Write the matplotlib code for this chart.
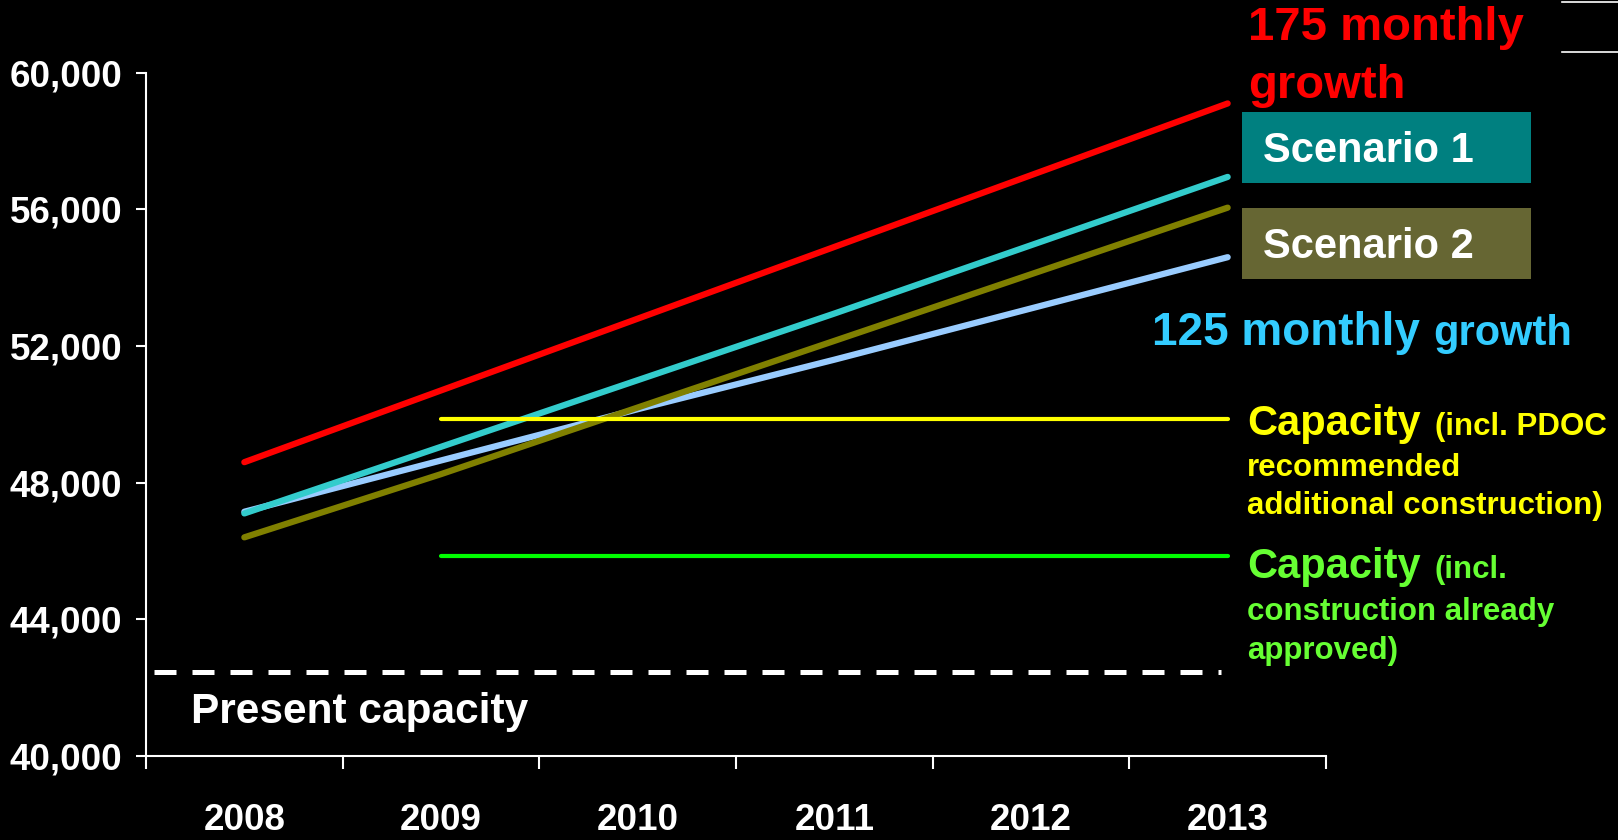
import matplotlib
matplotlib.use('Agg')
import matplotlib.pyplot as plt
from matplotlib.patches import Rectangle
from matplotlib.lines import Line2D
from matplotlib.ticker import FuncFormatter, FixedLocator

# data
years = ['2008', '2009', '2010', '2011', '2012', '2013']
growth_175 = [48600, 50700, 52800, 54900, 57000, 59100]
scenario_1 = [47100, 49050, 51000, 52950, 54950, 56950]
scenario_2 = [46400, 48250, 50200, 52150, 54100, 56050]
growth_125 = [47150, 48650, 50150, 51600, 53100, 54600]
capacity_pdoc = 49850
capacity_approved = 45850
capacity_present = 42450
y_ticks = [40000, 44000, 48000, 52000, 56000, 60000]

W, H = 1618, 840
TICK_FONT = ['Liberation Sans Narrow', 'Liberation Sans', 'DejaVu Sans']
TEXT_FONT = ['Liberation Sans', 'Arial', 'DejaVu Sans']


def fx(px):
    return px / W


def fy(py):
    return 1 - py / H


fig = plt.figure(figsize=(W / 100, H / 100), dpi=100, facecolor='black')
ax = fig.add_axes([fx(146), fy(756), fx(1326) - fx(146), fy(72.7) - fy(756)])
ax.set_facecolor('black')

x = list(range(len(years)))

# growth lines
ax.plot(x, growth_125, color='#99CCFF', lw=4.5, solid_capstyle='round', zorder=3)
ax.plot(x, scenario_1, color='#33CCCC', lw=4.5, solid_capstyle='round', zorder=4)
ax.plot(x, scenario_2, color='#808000', lw=4.5, solid_capstyle='round', zorder=5)
ax.plot(x, growth_175, color='#FF0000', lw=4.5, solid_capstyle='round', zorder=6)

# capacity lines (from 2009 on)
ax.plot(x[1:], [capacity_pdoc] * len(x[1:]), color='#FFFF00', lw=3,
        solid_capstyle='round', zorder=7)
ax.plot(x[1:], [capacity_approved] * len(x[1:]), color='#00FF00', lw=3,
        solid_capstyle='round', zorder=7)
ax.axhline(capacity_present, xmin=0.007, xmax=0.911, color='white', lw=3.6,
           dashes=(4.4, 3.2), dash_capstyle='butt', zorder=2)

ax.set_xlim(-0.5, 5.5)
ax.set_ylim(40000, 60000)

# spines / ticks
for side in ['top', 'right']:
    ax.spines[side].set_visible(False)
for side in ['left', 'bottom']:
    ax.spines[side].set_color('white')
    ax.spines[side].set_linewidth(1.5)

ax.xaxis.set_major_locator(FixedLocator([i - 0.5 for i in range(len(years) + 1)]))
ax.xaxis.set_minor_locator(FixedLocator(x))
ax.set_xticklabels([], minor=False)
ax.set_xticklabels(years, minor=True)
ax.tick_params(axis='x', which='major', direction='out', length=9.5, width=1.5,
               color='white')
ax.tick_params(axis='x', which='minor', length=0, pad=34, labelcolor='white')

ax.set_yticks(y_ticks)
ax.yaxis.set_major_formatter(FuncFormatter(lambda v, p: f'{int(v):,}'))
ax.tick_params(axis='y', direction='out', length=7, width=1.5, color='white',
               labelcolor='white', pad=10)

for lab in ax.get_xticklabels(minor=True) + ax.get_yticklabels():
    lab.set_family(TICK_FONT)
    lab.set_fontweight('bold')
    lab.set_fontsize(26.5)

# annotations on the right
def label(px, py, s, color, size):
    fig.text(fx(px), fy(py), s, color=color, fontsize=size, fontweight='bold',
             family=TEXT_FONT, va='baseline', ha='left')


label(1248, 40, '175 monthly', '#FF0000', 34)
label(1248, 98, 'growth', '#FF0000', 34)

fig.add_artist(Rectangle((fx(1242), fy(183)), fx(1531) - fx(1242), fy(112) - fy(183),
                         transform=fig.transFigure, facecolor='#008080', edgecolor='none'))
fig.add_artist(Rectangle((fx(1242), fy(279)), fx(1531) - fx(1242), fy(208) - fy(279),
                         transform=fig.transFigure, facecolor='#666633', edgecolor='none'))
label(1263, 162, 'Scenario 1', 'white', 30)
label(1263, 258, 'Scenario 2', 'white', 30)

label(1152, 345, '125 monthly', '#33CCFF', 33)
label(1433, 345, 'growth', '#33CCFF', 30)

label(1247, 435, 'Capacity', '#FFFF00', 30)
label(1435, 435, '(incl. PDOC', '#FFFF00', 22.5)
label(1247, 476, 'recommended', '#FFFF00', 22.5)
label(1247, 514, 'additional construction)', '#FFFF00', 22.5)

label(1247, 578, 'Capacity', '#66FF33', 30)
label(1435, 578, '(incl.', '#66FF33', 22.5)
label(1247, 620, 'construction already', '#66FF33', 22.5)
label(1247, 659, 'approved)', '#66FF33', 22.5)

label(191, 723, 'Present capacity', 'white', 30.5)

# stray slide rules in the top-right corner
for py in (1.5, 52):
    fig.add_artist(Line2D([fx(1562), fx(1618)], [fy(py), fy(py)],
                          transform=fig.transFigure, color='white', lw=1.2))

fig.savefig('out.png', dpi=100, facecolor='black')
